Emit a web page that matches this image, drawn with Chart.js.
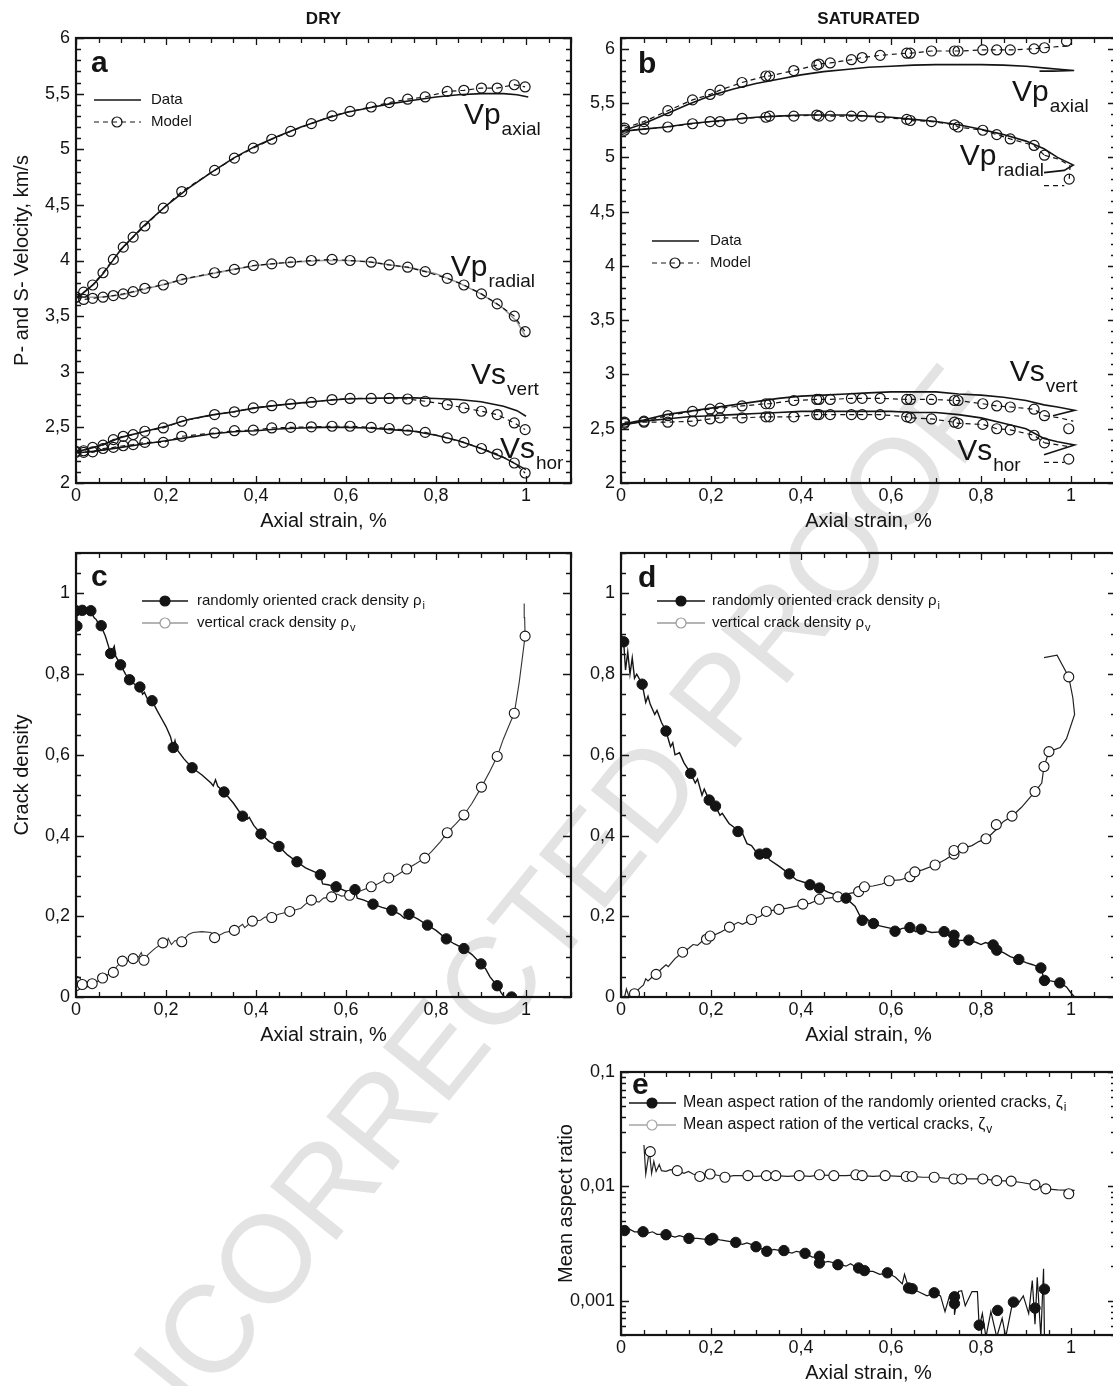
<!DOCTYPE html>
<html>
<head>
<meta charset="utf-8">
<script src="https://cdn.jsdelivr.net/npm/chart.js@4.4.1/dist/chart.umd.min.js"></script>
<style>
  html, body { margin: 0; padding: 0; background: #fff; overflow: hidden; }
  #page { position: relative; width: 1113px; height: 1386px; overflow: hidden; background: #fff; }
  #page canvas { position: absolute; left: 0; top: 0; }
</style>
</head>
<body>
<div id="page">
  <canvas id="panelA" width="1130" height="1386"></canvas>
  <canvas id="panelB" width="1130" height="1386"></canvas>
  <canvas id="panelC" width="1130" height="1386"></canvas>
  <canvas id="panelD" width="1130" height="1386"></canvas>
  <canvas id="panelE" width="1130" height="1386"></canvas>
</div>
<script>
// ---------- tick values ----------
const strainTicks = [0, 0.2, 0.4, 0.6, 0.8, 1];
const velocityTicks = [2, 2.5, 3, 3.5, 4, 4.5, 5, 5.5, 6];
const densityTicks = [0, 0.2, 0.4, 0.6, 0.8, 1];
const aspectTicks = [0.001, 0.01, 0.1];

// ---------- (a) dry sample: velocities, km/s ----------
const dryModelStrain = [0, 0.017, 0.037, 0.06, 0.083, 0.105, 0.127, 0.153, 0.194, 0.235, 0.308, 0.352, 0.394, 0.435,
  0.477, 0.523, 0.569, 0.609, 0.656, 0.696, 0.737, 0.776, 0.825, 0.862, 0.901, 0.936, 0.974, 0.998];
const dryVpAxialModel = [3.67, 3.715, 3.78, 3.89, 4.01, 4.12, 4.21, 4.31, 4.47, 4.62, 4.81, 4.92, 5.01, 5.09,
  5.16, 5.23, 5.30, 5.34, 5.38, 5.42, 5.45, 5.47, 5.52, 5.53, 5.55, 5.55, 5.58, 5.56];
const dryVpRadialModel = [3.67, 3.65, 3.66, 3.67, 3.685, 3.70, 3.72, 3.75, 3.78, 3.83, 3.89, 3.92, 3.955, 3.97,
  3.985, 4.0, 4.01, 4.0, 3.985, 3.96, 3.94, 3.90, 3.84, 3.78, 3.70, 3.61, 3.50, 3.36];
const dryVsVertModel = [2.285, 2.29, 2.32, 2.34, 2.39, 2.42, 2.435, 2.465, 2.495, 2.555, 2.615, 2.64, 2.675, 2.695,
  2.71, 2.725, 2.75, 2.76, 2.76, 2.76, 2.755, 2.735, 2.705, 2.675, 2.645, 2.615, 2.54, 2.48];
const dryVsHorModel = [2.276, 2.276, 2.28, 2.31, 2.32, 2.335, 2.345, 2.365, 2.365, 2.42, 2.45, 2.47, 2.475, 2.495,
  2.50, 2.505, 2.51, 2.51, 2.50, 2.49, 2.475, 2.455, 2.405, 2.365, 2.31, 2.26, 2.18, 2.09];

const dryVpAxialData = [[0,3.66],[0.02,3.72],[0.04,3.79],[0.06,3.88],[0.08,3.99],[0.1,4.1],[0.15,4.31],[0.2,4.49],
  [0.25,4.65],[0.3,4.79],[0.35,4.92],[0.4,5.03],[0.45,5.12],[0.5,5.2],[0.55,5.27],[0.6,5.33],[0.65,5.37],[0.7,5.41],
  [0.75,5.44],[0.8,5.47],[0.85,5.49],[0.9,5.5],[0.95,5.5],[0.98,5.49],[1.005,5.47]];
const dryVpRadialData = [[0,3.67],[0.05,3.67],[0.1,3.69],[0.15,3.74],[0.2,3.79],[0.25,3.84],[0.3,3.88],[0.35,3.92],
  [0.4,3.955],[0.45,3.975],[0.5,3.99],[0.55,4.0],[0.6,4.0],[0.65,3.99],[0.7,3.96],[0.75,3.93],[0.8,3.88],[0.85,3.8],
  [0.9,3.7],[0.95,3.57],[0.98,3.45],[1.0,3.31]];
const dryVsVertData = [[0,2.28],[0.05,2.33],[0.1,2.41],[0.15,2.46],[0.2,2.51],[0.25,2.57],[0.3,2.61],[0.35,2.64],
  [0.4,2.675],[0.45,2.7],[0.5,2.72],[0.55,2.74],[0.6,2.755],[0.65,2.76],[0.7,2.765],[0.75,2.765],[0.8,2.76],
  [0.85,2.75],[0.9,2.73],[0.95,2.69],[0.98,2.65],[1.0,2.6]];
const dryVsHorData = [[0,2.27],[0.05,2.29],[0.1,2.32],[0.15,2.35],[0.2,2.38],[0.25,2.41],[0.3,2.44],[0.35,2.46],
  [0.4,2.47],[0.45,2.485],[0.5,2.495],[0.55,2.5],[0.6,2.5],[0.65,2.495],[0.7,2.48],[0.75,2.465],[0.8,2.43],
  [0.85,2.38],[0.9,2.31],[0.95,2.23],[1.0,2.12]];

// ---------- (b) saturated sample: velocities, km/s ----------
const satModelStrain = [0.008, 0.051, 0.104, 0.159, 0.198, 0.22, 0.269, 0.322, 0.33, 0.384, 0.435, 0.44, 0.465,
  0.512, 0.536, 0.576, 0.635, 0.643, 0.69, 0.741, 0.749, 0.804, 0.835, 0.865, 0.918, 0.941];
const satVpAxialModel = [5.27, 5.33, 5.43, 5.53, 5.58, 5.62, 5.69, 5.75, 5.75, 5.80, 5.85, 5.86, 5.87,
  5.90, 5.92, 5.94, 5.96, 5.96, 5.98, 5.98, 5.98, 5.99, 5.99, 5.99, 6.00, 6.01];
const satVpRadialModel = [5.25, 5.26, 5.28, 5.31, 5.33, 5.33, 5.36, 5.37, 5.38, 5.38, 5.39, 5.38, 5.38,
  5.38, 5.38, 5.37, 5.35, 5.34, 5.33, 5.30, 5.28, 5.25, 5.21, 5.17, 5.11, 5.02];
const satVsVertModel = [2.56, 2.57, 2.62, 2.66, 2.68, 2.69, 2.71, 2.73, 2.73, 2.76, 2.77, 2.77, 2.77,
  2.78, 2.78, 2.78, 2.77, 2.77, 2.77, 2.76, 2.76, 2.73, 2.71, 2.70, 2.68, 2.62];
const satVsHorModel = [2.55, 2.56, 2.56, 2.57, 2.59, 2.60, 2.60, 2.61, 2.61, 2.61, 2.63, 2.63, 2.63,
  2.63, 2.63, 2.63, 2.61, 2.60, 2.59, 2.56, 2.55, 2.54, 2.50, 2.49, 2.44, 2.37];

const satVpAxialTail = [[0.941,6.01],[0.97,6.02],[1.0,6.03]];
const satVpRadialTail = [[0.941,5.02],[0.975,4.98],[0.998,4.92],[0.996,4.8]];
const satVpRadialDash = [[0.94,4.74],[0.985,4.74]];
const satVsVertTail = [[0.941,2.62],[0.975,2.6],[1.005,2.57]];
const satVsHorTail = [[0.941,2.37],[0.975,2.35],[1.0,2.33]];
const satVsHorDash = [[0.94,2.19],[0.985,2.19]];
const satModelEnds = [[0.99,6.07],[0.996,4.8],[0.995,2.5],[0.995,2.22]];

const satVpAxialData = [[0,5.24],[0.05,5.31],[0.1,5.4],[0.15,5.49],[0.2,5.57],[0.25,5.63],[0.3,5.68],[0.35,5.72],
  [0.4,5.76],[0.45,5.79],[0.5,5.81],[0.55,5.83],[0.6,5.84],[0.65,5.85],[0.7,5.855],[0.75,5.855],[0.8,5.855],
  [0.85,5.85],[0.9,5.84],[0.95,5.82],[0.98,5.81],[1.007,5.8],[0.96,5.795],[0.93,5.795]];
const satVpRadialData = [[0,5.24],[0.05,5.26],[0.1,5.28],[0.15,5.31],[0.2,5.33],[0.25,5.35],[0.3,5.37],[0.35,5.38],
  [0.4,5.39],[0.45,5.39],[0.5,5.39],[0.55,5.38],[0.6,5.37],[0.65,5.35],[0.7,5.33],[0.75,5.3],[0.8,5.26],[0.85,5.21],
  [0.9,5.15],[0.94,5.08],[0.97,5.0],[1.005,4.93],[0.985,4.88],[0.94,4.86]];
const satVsVertData = [[0,2.54],[0.05,2.58],[0.1,2.63],[0.15,2.66],[0.2,2.69],[0.25,2.72],[0.3,2.75],[0.35,2.78],
  [0.4,2.8],[0.45,2.81],[0.5,2.82],[0.55,2.83],[0.6,2.84],[0.65,2.84],[0.7,2.84],[0.75,2.82],[0.8,2.81],[0.85,2.79],
  [0.9,2.76],[0.94,2.72],[0.97,2.7],[1.008,2.67],[0.96,2.62]];
const satVsHorData = [[0,2.53],[0.05,2.57],[0.1,2.59],[0.15,2.61],[0.2,2.62],[0.25,2.63],[0.3,2.64],[0.35,2.65],
  [0.4,2.66],[0.45,2.66],[0.5,2.66],[0.55,2.66],[0.6,2.66],[0.65,2.65],[0.7,2.65],[0.75,2.63],[0.8,2.6],[0.85,2.55],
  [0.9,2.5],[0.94,2.41],[0.97,2.38],[1.008,2.35],[0.94,2.26]];

// ---------- (c) dry sample: crack densities ----------
const dryRandomLine = [[0,0.92],[0.002,0.955],[0.014,0.958],[0.025,0.955],[0.033,0.957],[0.04,0.94],[0.045,0.935],
  [0.05,0.925],[0.056,0.918],[0.065,0.895],[0.072,0.87],[0.077,0.851],[0.082,0.862],[0.085,0.869],[0.088,0.845],
  [0.099,0.823],[0.11,0.8],[0.119,0.786],[0.13,0.775],[0.142,0.768],[0.148,0.75],[0.152,0.755],[0.158,0.74],
  [0.169,0.734],[0.18,0.71],[0.19,0.69],[0.2,0.67],[0.21,0.645],[0.216,0.618],[0.22,0.635],[0.225,0.612],[0.24,0.59],
  [0.258,0.568],[0.28,0.55],[0.3,0.53],[0.305,0.523],[0.31,0.538],[0.315,0.522],[0.329,0.508],[0.35,0.48],[0.37,0.448],
  [0.38,0.44],[0.385,0.445],[0.395,0.425],[0.411,0.404],[0.43,0.385],[0.451,0.373],[0.47,0.352],[0.491,0.335],
  [0.51,0.32],[0.53,0.31],[0.543,0.303],[0.548,0.28],[0.56,0.278],[0.578,0.273],[0.6,0.262],[0.62,0.266],[0.625,0.245],
  [0.64,0.24],[0.66,0.23],[0.68,0.222],[0.702,0.215],[0.72,0.205],[0.73,0.195],[0.74,0.205],[0.76,0.193],[0.781,0.178],
  [0.8,0.165],[0.823,0.144],[0.84,0.132],[0.862,0.12],[0.88,0.105],[0.9,0.082],[0.91,0.07],[0.92,0.05],[0.936,0.028],
  [0.945,0.01],[0.952,0]];
const dryRandomMarks = [[0.002,0.919],[0,0.957],[0.014,0.958],[0.033,0.957],[0.056,0.92],[0.077,0.851],[0.099,0.823],
  [0.119,0.786],[0.142,0.768],[0.169,0.734],[0.216,0.618],[0.258,0.568],[0.329,0.508],[0.37,0.448],[0.411,0.404],
  [0.451,0.373],[0.491,0.335],[0.543,0.303],[0.578,0.273],[0.62,0.266],[0.66,0.23],[0.702,0.215],[0.74,0.205],
  [0.781,0.178],[0.823,0.144],[0.862,0.12],[0.9,0.082],[0.936,0.028],[0.968,0]];
const dryVerticalLine = [[0,0.039],[0,0.028],[0.014,0.031],[0.025,0.025],[0.036,0.033],[0.05,0.04],[0.059,0.047],
  [0.07,0.055],[0.083,0.061],[0.09,0.075],[0.103,0.089],[0.115,0.09],[0.127,0.095],[0.14,0.1],[0.145,0.11],[0.151,0.091],
  [0.16,0.105],[0.175,0.12],[0.193,0.134],[0.2,0.125],[0.205,0.145],[0.212,0.13],[0.22,0.14],[0.235,0.137],[0.25,0.155],
  [0.26,0.16],[0.28,0.162],[0.3,0.16],[0.308,0.147],[0.33,0.16],[0.352,0.165],[0.37,0.18],[0.375,0.172],[0.392,0.188],
  [0.41,0.19],[0.42,0.198],[0.435,0.197],[0.45,0.205],[0.475,0.212],[0.5,0.22],[0.51,0.23],[0.523,0.24],[0.54,0.235],
  [0.55,0.245],[0.568,0.248],[0.58,0.255],[0.59,0.25],[0.608,0.252],[0.63,0.262],[0.656,0.273],[0.67,0.28],[0.695,0.295],
  [0.71,0.3],[0.735,0.317],[0.755,0.33],[0.775,0.344],[0.79,0.36],[0.81,0.385],[0.825,0.407],[0.845,0.43],[0.862,0.451],
  [0.88,0.48],[0.901,0.52],[0.92,0.56],[0.936,0.596],[0.95,0.64],[0.965,0.68],[0.974,0.703],[0.985,0.78],[0.993,0.85],
  [0.998,0.894],[0.997,0.94],[0.996,0.975]];
const dryVerticalMarks = [[0,0.039],[0,0.028],[0.014,0.031],[0.036,0.033],[0.059,0.047],[0.083,0.061],[0.103,0.089],
  [0.127,0.095],[0.151,0.091],[0.193,0.134],[0.235,0.137],[0.308,0.147],[0.352,0.165],[0.392,0.188],[0.435,0.197],
  [0.475,0.212],[0.523,0.24],[0.568,0.248],[0.608,0.252],[0.656,0.273],[0.695,0.295],[0.735,0.317],[0.775,0.344],
  [0.825,0.407],[0.862,0.451],[0.901,0.52],[0.936,0.596],[0.974,0.703],[0.998,0.894]];

// ---------- (d) saturated sample: crack densities ----------
const satRandomLine = [[0,0.9],[0.006,0.88],[0.01,0.81],[0.015,0.855],[0.02,0.8],[0.025,0.84],[0.03,0.79],[0.035,0.8],
  [0.047,0.775],[0.055,0.73],[0.06,0.745],[0.065,0.725],[0.075,0.7],[0.08,0.71],[0.09,0.68],[0.1,0.659],[0.11,0.62],
  [0.115,0.63],[0.12,0.6],[0.13,0.605],[0.14,0.58],[0.155,0.554],[0.165,0.53],[0.17,0.54],[0.18,0.5],[0.185,0.515],
  [0.196,0.488],[0.21,0.473],[0.22,0.45],[0.225,0.455],[0.24,0.43],[0.26,0.413],[0.27,0.405],[0.28,0.38],[0.29,0.375],
  [0.3,0.36],[0.308,0.354],[0.323,0.356],[0.33,0.34],[0.35,0.325],[0.374,0.305],[0.39,0.29],[0.41,0.283],[0.42,0.278],
  [0.441,0.27],[0.46,0.26],[0.48,0.252],[0.5,0.245],[0.52,0.225],[0.536,0.19],[0.545,0.195],[0.561,0.18],[0.58,0.175],
  [0.6,0.17],[0.609,0.162],[0.625,0.17],[0.642,0.172],[0.655,0.162],[0.667,0.168],[0.69,0.16],[0.718,0.162],[0.73,0.15],
  [0.74,0.153],[0.75,0.14],[0.773,0.141],[0.79,0.135],[0.8,0.13],[0.81,0.135],[0.827,0.129],[0.835,0.116],[0.85,0.11],
  [0.865,0.1],[0.884,0.093],[0.9,0.085],[0.915,0.08],[0.933,0.072],[0.941,0.041],[0.955,0.04],[0.975,0.035],
  [0.99,0.025],[1.0,0.01],[1.008,0]];
const satRandomMarks = [[0.006,0.88],[0.047,0.775],[0.1,0.659],[0.155,0.554],[0.196,0.488],[0.21,0.473],[0.26,0.41],
  [0.308,0.354],[0.323,0.356],[0.374,0.305],[0.42,0.278],[0.441,0.27],[0.5,0.245],[0.536,0.19],[0.561,0.182],
  [0.609,0.163],[0.642,0.172],[0.667,0.168],[0.718,0.162],[0.74,0.153],[0.74,0.136],[0.773,0.141],[0.827,0.129],
  [0.835,0.116],[0.884,0.093],[0.933,0.072],[0.941,0.041],[0.975,0.035]];
const satVerticalLine = [[0.008,0],[0.012,0.02],[0.018,0],[0.03,0.008],[0.04,0.02],[0.05,0.03],[0.055,0.045],[0.06,0.04],
  [0.07,0.05],[0.078,0.056],[0.09,0.07],[0.1,0.08],[0.105,0.075],[0.12,0.095],[0.137,0.111],[0.15,0.12],[0.16,0.13],
  [0.17,0.128],[0.18,0.138],[0.19,0.143],[0.198,0.151],[0.21,0.155],[0.22,0.16],[0.241,0.173],[0.26,0.185],[0.27,0.18],
  [0.29,0.192],[0.31,0.2],[0.323,0.212],[0.351,0.217],[0.37,0.22],[0.39,0.225],[0.404,0.23],[0.42,0.232],[0.441,0.242],
  [0.46,0.245],[0.482,0.248],[0.5,0.255],[0.528,0.261],[0.541,0.273],[0.56,0.275],[0.58,0.28],[0.596,0.288],[0.62,0.29],
  [0.642,0.298],[0.653,0.31],[0.67,0.315],[0.698,0.327],[0.72,0.34],[0.74,0.354],[0.74,0.363],[0.76,0.369],[0.78,0.375],
  [0.795,0.385],[0.811,0.392],[0.82,0.4],[0.834,0.415],[0.85,0.435],[0.869,0.448],[0.89,0.47],[0.92,0.509],[0.935,0.53],
  [0.94,0.571],[0.951,0.608],[0.976,0.618],[0.99,0.64],[1.008,0.7],[1.004,0.742],[0.995,0.793],[0.969,0.847],[0.94,0.841]];
const satVerticalMarks = [[0.03,0.008],[0.078,0.056],[0.137,0.111],[0.19,0.143],[0.198,0.151],[0.241,0.173],[0.29,0.192],
  [0.323,0.212],[0.351,0.217],[0.404,0.23],[0.441,0.242],[0.482,0.248],[0.528,0.261],[0.541,0.273],[0.596,0.288],
  [0.642,0.298],[0.653,0.31],[0.698,0.327],[0.74,0.354],[0.74,0.363],[0.76,0.369],[0.811,0.392],[0.834,0.427],
  [0.869,0.448],[0.92,0.509],[0.94,0.571],[0.951,0.608],[0.995,0.793]];

// ---------- (e) saturated sample: mean aspect ratios ----------
const satRandomAspectLine = [[0,0.0042],[0.008,0.0041],[0.02,0.0042],[0.03,0.004],[0.049,0.004],[0.06,0.0039],[0.07,0.004],
  [0.08,0.0038],[0.1,0.0038],[0.12,0.0036],[0.13,0.0037],[0.151,0.0035],[0.17,0.0035],[0.198,0.0034],[0.204,0.0035],
  [0.22,0.0034],[0.24,0.0033],[0.255,0.0032],[0.27,0.0031],[0.28,0.0032],[0.3,0.003],[0.324,0.0027],[0.34,0.0028],
  [0.362,0.0027],[0.38,0.0026],[0.39,0.0027],[0.409,0.0026],[0.425,0.0024],[0.441,0.0024],[0.441,0.0021],[0.46,0.0022],
  [0.482,0.0021],[0.5,0.002],[0.51,0.0021],[0.528,0.0019],[0.541,0.0018],[0.56,0.0018],[0.575,0.0017],[0.592,0.00175],
  [0.61,0.0016],[0.625,0.0014],[0.63,0.0017],[0.639,0.0013],[0.647,0.00127],[0.66,0.0012],[0.68,0.0011],[0.696,0.00117],
  [0.71,0.0011],[0.72,0.0008],[0.73,0.0011],[0.741,0.00108],[0.741,0.00075],[0.75,0.0012],[0.757,0.00122],[0.765,0.0009],
  [0.78,0.0012],[0.792,0.0012],[0.796,0.00058],[0.803,0.00077],[0.811,0.00048],[0.822,0.0008],[0.835,0.00048],
  [0.847,0.0007],[0.855,0.00048],[0.871,0.001],[0.882,0.00093],[0.894,0.0011],[0.906,0.00077],[0.914,0.0015],
  [0.92,0.00062],[0.925,0.0016],[0.933,0.00048],[0.939,0.0019],[0.941,0.00048]];
const satRandomAspectMarks = [[0.008,0.0041],[0.049,0.004],[0.1,0.00377],[0.151,0.0035],[0.198,0.00339],[0.204,0.0035],
  [0.255,0.00323],[0.3,0.00296],[0.324,0.0027],[0.362,0.00274],[0.409,0.00259],[0.441,0.00244],[0.441,0.00213],
  [0.482,0.00206],[0.528,0.00193],[0.541,0.00183],[0.592,0.00175],[0.639,0.00129],[0.647,0.00127],[0.696,0.00117],
  [0.741,0.00108],[0.741,0.00094],[0.796,0.00061],[0.837,0.00082],[0.872,0.00097],[0.92,0.00086],[0.941,0.00126]];
const satVerticalAspectLine = [[0.051,0.023],[0.055,0.0128],[0.063,0.0205],[0.068,0.013],[0.073,0.0165],[0.078,0.0135],
  [0.085,0.0155],[0.09,0.0137],[0.1,0.0135],[0.11,0.014],[0.125,0.0137],[0.14,0.013],[0.15,0.0135],[0.16,0.0128],
  [0.175,0.0122],[0.185,0.0128],[0.198,0.0128],[0.215,0.0125],[0.231,0.012],[0.25,0.0124],[0.282,0.0124],[0.3,0.0122],
  [0.323,0.0124],[0.344,0.0124],[0.37,0.0122],[0.396,0.0124],[0.42,0.0122],[0.441,0.0126],[0.473,0.0124],[0.5,0.0124],
  [0.522,0.0126],[0.536,0.0124],[0.56,0.0122],[0.587,0.0124],[0.62,0.0122],[0.647,0.0122],[0.67,0.012],[0.696,0.012],
  [0.72,0.0118],[0.757,0.0116],[0.78,0.0116],[0.804,0.0116],[0.835,0.0112],[0.867,0.0111],[0.89,0.0108],[0.92,0.0103],
  [0.944,0.0095],[0.97,0.0093],[1.008,0.0092]];
const satVerticalAspectMarks = [[0.065,0.0201],[0.125,0.0137],[0.175,0.0122],[0.198,0.0128],[0.231,0.012],[0.282,0.0124],
  [0.323,0.0124],[0.344,0.0124],[0.396,0.0124],[0.441,0.0126],[0.473,0.0124],[0.522,0.0126],[0.536,0.0124],
  [0.587,0.0124],[0.634,0.0122],[0.647,0.0122],[0.696,0.012],[0.74,0.0116],[0.757,0.0116],[0.804,0.0116],
  [0.835,0.0112],[0.867,0.0111],[0.92,0.0103],[0.944,0.0095],[0.995,0.0086]];

// ---------- drawing setup ----------
const FONT = "'Liberation Sans', Arial, Helvetica, sans-serif";
const INK = '#141414';
const PAGE_W = 1130, PAGE_H = 1386;
const Y_AXIS_W = 60, X_AXIS_H = 40;

const fmt = v => String(v).replace('.', ',');
const pairs = arr => arr.map(([x, y]) => ({ x, y }));
const zip = (xs, ys) => xs.map((x, i) => ({ x, y: ys[i] }));

function linearMarks(min, max, step) {
  const out = [];
  for (let k = Math.ceil(min / step - 1e-9); k * step <= max + 1e-9; k++) out.push(Math.round(k * step * 1e6) / 1e6);
  return out;
}
function logMarks(min, max) {
  const out = [];
  for (let e = Math.floor(Math.log10(min)); e <= Math.ceil(Math.log10(max)); e++) {
    for (let m = 1; m <= 9; m++) {
      const v = m * Math.pow(10, e);
      if (v >= min * (1 - 1e-9) && v <= max * (1 + 1e-9)) out.push(v);
    }
  }
  return out;
}
const isMajor = (v, list) => list.some(m => Math.abs(v / (m || 1) - (m ? 1 : 0)) < 1e-6 || Math.abs(v - m) < 1e-9);

// dataset styles
const solid = (pts, color = INK, width = 1.6) => ({ data: pts, showLine: true, borderColor: color, borderWidth: width,
  pointRadius: 0, pointHoverRadius: 0, fill: false, tension: 0 });
const dashed = (pts, radius = 5) => ({ data: pts, showLine: true, borderColor: INK, borderWidth: 1.2, borderDash: [5, 4],
  pointRadius: radius, pointHoverRadius: radius, pointBorderWidth: 1.2, pointBorderColor: INK,
  pointBackgroundColor: 'rgba(0,0,0,0)', fill: false, tension: 0 });
const rings = pts => ({ data: pts, showLine: false, pointRadius: 5, pointBorderWidth: 1.2, pointBorderColor: INK,
  pointBackgroundColor: 'rgba(0,0,0,0)' });
const dots = pts => ({ data: pts, showLine: false, pointRadius: 5.2, pointBorderWidth: 1, pointBorderColor: INK,
  pointBackgroundColor: INK });
const openDots = pts => ({ data: pts, showLine: false, pointRadius: 5, pointBorderWidth: 1.1, pointBorderColor: INK,
  pointBackgroundColor: '#fff' });

function xScale() {
  return {
    type: 'linear', min: 0, max: 1.1,
    afterBuildTicks: s => { s.ticks = strainTicks.map(v => ({ value: v })); },
    afterFit: s => { s.height = X_AXIS_H; },
    grid: { display: false, drawTicks: false }, border: { display: false },
    ticks: { callback: v => fmt(v), font: { family: FONT, size: 18 }, color: INK, padding: 2,
      autoSkip: false, maxRotation: 0 }
  };
}
function yScale(type, min, max, ticks) {
  return {
    type, min, max,
    afterBuildTicks: s => { s.ticks = ticks.map(v => ({ value: v })); },
    afterFit: s => { s.width = Y_AXIS_W; },
    grid: { display: false, drawTicks: false }, border: { display: false },
    ticks: { callback: v => fmt(v), font: { family: FONT, size: 18 }, color: INK, padding: 6, autoSkip: false }
  };
}

// ---------- frame, inward ticks, labels, legends ----------
const decorSpecs = {};

function drawWatermark(ctx) {
  ctx.save();
  ctx.translate(66, 1504);
  ctx.rotate(-51 * Math.PI / 180);
  ctx.font = `124px ${FONT}`;
  ctx.fillStyle = '#e3e3e3';
  ctx.textBaseline = 'alphabetic';
  ctx.fillText('UNCORRECTED PROOF', 0, 44);
  ctx.restore();
}

function legendRow(ctx, ca, L, row, i) {
  const y = ca.top + L.y0 + i * L.dy;
  const x1 = ca.left + L.x1, x2 = ca.left + L.x2, xm = ca.left + L.xm, xt = ca.left + L.xt;
  ctx.save();
  ctx.strokeStyle = row.line; ctx.lineWidth = row.lw || 1.5;
  ctx.setLineDash(row.dash || []);
  ctx.beginPath(); ctx.moveTo(x1, y); ctx.lineTo(x2, y); ctx.stroke();
  ctx.setLineDash([]);
  if (row.marker) {
    ctx.beginPath(); ctx.arc(xm, y, 5, 0, Math.PI * 2);
    if (row.fill) { ctx.fillStyle = row.fill; ctx.fill(); }
    ctx.lineWidth = 1.2; ctx.strokeStyle = row.marker; ctx.stroke();
  }
  ctx.fillStyle = INK; ctx.font = `${L.size}px ${FONT}`;
  ctx.textAlign = 'left'; ctx.textBaseline = 'middle';
  ctx.fillText(row.label, xt, y);
  if (row.sub) {
    const w = ctx.measureText(row.label).width;
    ctx.font = `${Math.round(L.size * 0.75)}px ${FONT}`;
    ctx.fillText(row.sub, xt + w + 1, y + 5);
  }
  ctx.restore();
}

const panelDecor = {
  id: 'panelDecor',
  beforeDraw(chart) {
    const spec = decorSpecs[chart.canvas.id];
    if (spec && spec.watermark) drawWatermark(chart.ctx);
  },
  afterDraw(chart) {
    const spec = decorSpecs[chart.canvas.id];
    if (!spec) return;
    const ctx = chart.ctx, ca = chart.chartArea, xs = chart.scales.x, ys = chart.scales.y;
    ctx.save();
    // inward tick marks on all four sides
    ctx.strokeStyle = INK; ctx.lineWidth = 1.3;
    ctx.beginPath();
    spec.xMarks.forEach(v => {
      const px = Math.round(xs.getPixelForValue(v)) + 0.5;
      const len = isMajor(v, strainTicks) ? 7 : 5;
      ctx.moveTo(px, ca.bottom); ctx.lineTo(px, ca.bottom - len);
      ctx.moveTo(px, ca.top); ctx.lineTo(px, ca.top + len);
    });
    spec.yMarks.forEach(v => {
      const py = Math.round(ys.getPixelForValue(v)) + 0.5;
      const len = isMajor(v, spec.yMajor) ? 8 : 5;
      ctx.moveTo(ca.left, py); ctx.lineTo(ca.left + len, py);
      ctx.moveTo(ca.right, py); ctx.lineTo(ca.right - len, py);
    });
    ctx.stroke();
    // box
    ctx.lineWidth = 2.2;
    ctx.strokeRect(ca.left, ca.top, ca.right - ca.left, ca.bottom - ca.top);

    ctx.fillStyle = INK;
    ctx.textBaseline = 'alphabetic';
    if (spec.header) {
      ctx.font = `bold 17px ${FONT}`; ctx.textAlign = 'center';
      ctx.fillText(spec.header, (ca.left + ca.right) / 2, 24);
    }
    ctx.font = `bold 30px ${FONT}`; ctx.textAlign = 'left';
    ctx.fillText(spec.letter, ca.left + spec.letterDx, ca.top + spec.letterDy);

    ctx.font = `20px ${FONT}`; ctx.textAlign = 'center';
    ctx.fillText('Axial strain, %', (ca.left + ca.right) / 2, ca.bottom + 44);

    ctx.save();
    ctx.translate(spec.yTitleX, (ca.top + ca.bottom) / 2);
    ctx.rotate(-Math.PI / 2);
    ctx.textAlign = 'center'; ctx.textBaseline = 'middle';
    ctx.fillText(spec.yTitle, 0, 0);
    ctx.restore();

    (spec.notes || []).forEach(n => {
      const px = xs.getPixelForValue(n.x), py = ys.getPixelForValue(n.y);
      ctx.font = `30px ${FONT}`; ctx.textAlign = 'left'; ctx.textBaseline = 'alphabetic';
      ctx.fillText(n.main, px, py);
      const w = ctx.measureText(n.main).width;
      ctx.font = `19px ${FONT}`;
      ctx.fillText(n.sub, px + w + 1, py + 11);
    });

    if (spec.legend) spec.legend.rows.forEach((row, i) => legendRow(ctx, ca, spec.legend, row, i));
    ctx.restore();
  }
};

function makeChart(id, area, yCfg, datasets) {
  return new Chart(document.getElementById(id), {
    type: 'scatter',
    data: { datasets },
    options: {
      responsive: false, animation: false, devicePixelRatio: 1, events: [],
      layout: { padding: { left: area.left - Y_AXIS_W, top: area.top, right: PAGE_W - area.right,
        bottom: PAGE_H - area.bottom - X_AXIS_H } },
      plugins: { legend: { display: false }, tooltip: { enabled: false } },
      scales: { x: xScale(), y: yCfg }
    },
    plugins: [panelDecor]
  });
}

const strainMarks = linearMarks(0, 1.1, 0.05);
const velocityLegend = {
  rows: [
    { label: 'Data', line: INK, lw: 1.6 },
    { label: 'Model', line: INK, lw: 1.2, dash: [5, 4], marker: INK }
  ]
};
const densityRows = [
  { label: 'randomly oriented crack density \u03c1', sub: 'i', line: INK, lw: 1.6, marker: INK, fill: INK },
  { label: 'vertical crack density \u03c1', sub: 'v', line: '#9b9b9b', lw: 1.6, marker: '#9b9b9b', fill: '#fff' }
];
const aspectRows = [
  { label: 'Mean aspect ration of the randomly oriented cracks, \u03b6', sub: 'i', line: INK, lw: 1.6, marker: INK, fill: INK },
  { label: 'Mean aspect ration of the vertical cracks, \u03b6', sub: 'v', line: '#a5a5a5', lw: 1.6, marker: '#a5a5a5', fill: '#fff' }
];

// (a) dry velocities
decorSpecs.panelA = {
  watermark: true, header: 'DRY', letter: 'a', letterDx: 15, letterDy: 34,
  xMarks: strainMarks, yMarks: linearMarks(2, 6, 0.1), yMajor: velocityTicks,
  yTitle: 'P- and S- Velocity, km/s', yTitleX: 22,
  notes: [
    { main: 'Vp', sub: 'axial', x: 0.862, y: 5.225 },
    { main: 'Vp', sub: 'radial', x: 0.833, y: 3.865 },
    { main: 'Vs', sub: 'vert', x: 0.878, y: 2.89 },
    { main: 'Vs', sub: 'hor', x: 0.942, y: 2.225 }
  ],
  legend: Object.assign({ x1: 18, x2: 65, xm: 41, xt: 75, y0: 62, dy: 22, size: 15 }, velocityLegend)
};
makeChart('panelA', { left: 76, right: 571, top: 38, bottom: 483 }, yScale('linear', 2, 6, velocityTicks), [
  dashed(zip(dryModelStrain, dryVpAxialModel)),
  dashed(zip(dryModelStrain, dryVpRadialModel)),
  dashed(zip(dryModelStrain, dryVsVertModel)),
  dashed(zip(dryModelStrain, dryVsHorModel)),
  solid(pairs(dryVpAxialData)),
  solid(pairs(dryVpRadialData), '#9a9a9a'),
  solid(pairs(dryVsVertData)),
  solid(pairs(dryVsHorData))
]);

// (b) saturated velocities
decorSpecs.panelB = {
  header: 'SATURATED', letter: 'b', letterDx: 17, letterDy: 35,
  xMarks: strainMarks, yMarks: linearMarks(2, 6.1, 0.1), yMajor: velocityTicks,
  yTitle: '', yTitleX: 590,
  notes: [
    { main: 'Vp', sub: 'axial', x: 0.869, y: 5.52 },
    { main: 'Vp', sub: 'radial', x: 0.753, y: 4.93 },
    { main: 'Vs', sub: 'vert', x: 0.864, y: 2.94 },
    { main: 'Vs', sub: 'hor', x: 0.747, y: 2.21 }
  ],
  legend: Object.assign({ x1: 31, x2: 78, xm: 54, xt: 89, y0: 203, dy: 22, size: 15 }, velocityLegend)
};
makeChart('panelB', { left: 621, right: 1116, top: 38, bottom: 483 }, yScale('linear', 2, 6.1, velocityTicks), [
  dashed(zip(satModelStrain, satVpAxialModel)),
  dashed(zip(satModelStrain, satVpRadialModel)),
  dashed(zip(satModelStrain, satVsVertModel)),
  dashed(zip(satModelStrain, satVsHorModel)),
  dashed(pairs(satVpAxialTail), 0),
  dashed(pairs(satVpRadialTail), 0),
  dashed(pairs(satVpRadialDash), 0),
  dashed(pairs(satVsVertTail), 0),
  dashed(pairs(satVsHorTail), 0),
  dashed(pairs(satVsHorDash), 0),
  rings(pairs(satModelEnds)),
  solid(pairs(satVpAxialData)),
  solid(pairs(satVpRadialData)),
  solid(pairs(satVsVertData)),
  solid(pairs(satVsHorData))
]);

// (c) dry crack densities
decorSpecs.panelC = {
  letter: 'c', letterDx: 15, letterDy: 33,
  xMarks: strainMarks, yMarks: linearMarks(0, 1.1, 0.05), yMajor: densityTicks,
  yTitle: 'Crack density', yTitleX: 22,
  legend: { x1: 66, x2: 112, xm: 89, xt: 121, y0: 48, dy: 22, size: 15, rows: densityRows }
};
makeChart('panelC', { left: 76, right: 571, top: 553, bottom: 997 }, yScale('linear', 0, 1.1, densityTicks), [
  dots(pairs(dryRandomMarks)),
  openDots(pairs(dryVerticalMarks)),
  solid(pairs(dryRandomLine), INK, 1.4),
  solid(pairs(dryVerticalLine), '#333', 1.1)
]);

// (d) saturated crack densities
decorSpecs.panelD = {
  letter: 'd', letterDx: 17, letterDy: 34,
  xMarks: strainMarks, yMarks: linearMarks(0, 1.1, 0.05), yMajor: densityTicks,
  yTitle: '', yTitleX: 590,
  legend: { x1: 36, x2: 84, xm: 60, xt: 91, y0: 48, dy: 22, size: 15, rows: densityRows }
};
makeChart('panelD', { left: 621, right: 1116, top: 553, bottom: 997 }, yScale('linear', 0, 1.1, densityTicks), [
  dots(pairs(satRandomMarks)),
  openDots(pairs(satVerticalMarks)),
  solid(pairs(satRandomLine), INK, 1.4),
  solid(pairs(satVerticalLine), '#222', 1.2)
]);

// (e) saturated mean aspect ratios
decorSpecs.panelE = {
  letter: 'e', letterDx: 11, letterDy: 22,
  xMarks: strainMarks, yMarks: logMarks(0.0005, 0.1), yMajor: aspectTicks,
  yTitle: 'Mean aspect ratio', yTitleX: 566,
  legend: { x1: 8, x2: 55, xm: 31, xt: 62, y0: 31, dy: 22, size: 16, rows: aspectRows }
};
makeChart('panelE', { left: 621, right: 1116, top: 1072, bottom: 1335 }, yScale('logarithmic', 0.0005, 0.1, aspectTicks), [
  dots(pairs(satRandomAspectMarks)),
  openDots(pairs(satVerticalAspectMarks)),
  solid(pairs(satRandomAspectLine), INK, 1.2),
  solid(pairs(satVerticalAspectLine), '#222', 1.2)
]);
</script>
</body>
</html>
